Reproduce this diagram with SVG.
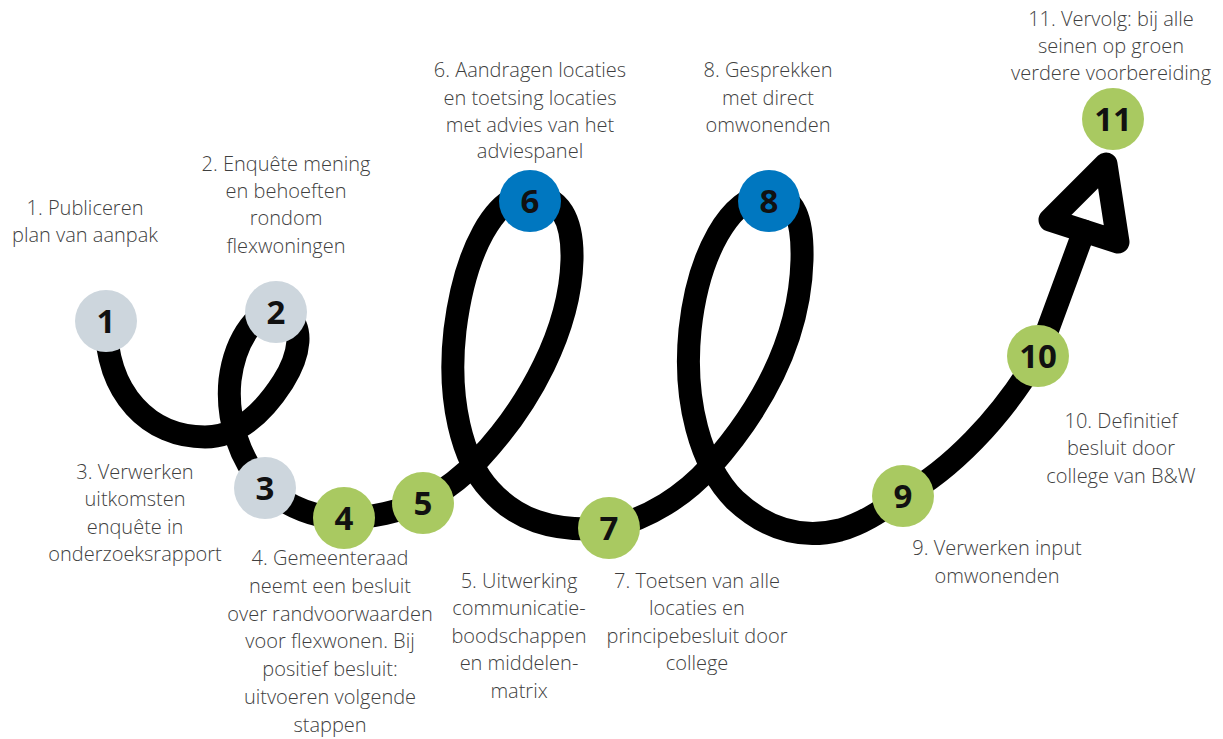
<svg xmlns="http://www.w3.org/2000/svg" width="1223" height="739" viewBox="0 0 1223 739">
<style>
.lbl{font-family:"Open Sans","Liberation Sans",sans-serif;font-size:20px;fill:#3f3f3f;text-anchor:middle;font-weight:300}
.num{font-family:"Open Sans","Liberation Sans",sans-serif;font-size:33px;font-weight:700;fill:#111;text-anchor:middle}
.gray{fill:#cdd6dd}.green{fill:#a9c961}.blue{fill:#0077c0}
.track{fill:none;stroke:#000;stroke-width:23;stroke-linecap:round;stroke-linejoin:round}
</style>
<rect width="1223" height="739" fill="#fff"/>
<g id="connectors">
<path class="track" d="M106,321 C106,395 150,437 205,437 C240,437 265,410 283,382 C300,355 305,325 285,314 C260,300 235,340 230,380 C226,420 240,460 265,488 C290,508 315,518 344,518 C375,518 400,510 423,503 C445,490 462,478 478,460 C530,405 570,330 572,260 C573,220 560,195 530,195 C495,195 465,250 455,330 C447,400 462,460 490,490 C515,518 550,533 609,528 C650,518 685,495 710,467 C765,405 800,335 802,260 C803,220 795,195 769,195 C730,195 698,255 690,330 C683,400 700,465 735,500 C765,528 800,540 840,530 C865,523 885,508 903,496 C950,470 1000,420 1038,356 L1084,231"/>
<path class="track" d="M1106,164 L1050,220 L1118,242 Z"/>
</g>
<g id="n1"><circle class="gray" cx="106" cy="321" r="31"/><text class="num" x="106" y="333">1</text>
<text class="lbl" x="85" y="215">1. Publiceren</text><text class="lbl" x="85" y="242">plan van aanpak</text></g>
<g id="n2"><circle class="gray" cx="276" cy="312" r="31"/><text class="num" x="276" y="324">2</text>
<text class="lbl" x="286" y="171">2. Enquête mening</text><text class="lbl" x="286" y="198">en behoeften</text><text class="lbl" x="286" y="225">rondom</text><text class="lbl" x="286" y="253">flexwoningen</text></g>
<g id="n3"><circle class="gray" cx="265" cy="488" r="31"/><text class="num" x="265" y="500">3</text>
<text class="lbl" x="135" y="479">3. Verwerken</text><text class="lbl" x="135" y="506">uitkomsten</text><text class="lbl" x="135" y="534">enquête in</text><text class="lbl" x="135" y="561">onderzoeksrapport</text></g>
<g id="n4"><circle class="green" cx="344" cy="518" r="31"/><text class="num" x="344" y="530">4</text>
<text class="lbl" x="330" y="565">4. Gemeenteraad</text><text class="lbl" x="330" y="593">neemt een besluit</text><text class="lbl" x="330" y="621">over randvoorwaarden</text><text class="lbl" x="330" y="648">voor flexwonen. Bij</text><text class="lbl" x="330" y="676">positief besluit:</text><text class="lbl" x="330" y="704">uitvoeren volgende</text><text class="lbl" x="330" y="732">stappen</text></g>
<g id="n5"><circle class="green" cx="423" cy="503" r="31"/><text class="num" x="423" y="515">5</text>
<text class="lbl" x="519" y="588">5. Uitwerking</text><text class="lbl" x="519" y="615">communicatie-</text><text class="lbl" x="519" y="643">boodschappen</text><text class="lbl" x="519" y="670">en middelen-</text><text class="lbl" x="519" y="698">matrix</text></g>
<g id="n6"><circle class="blue" cx="530" cy="201" r="31"/><text class="num" x="530" y="213">6</text>
<text class="lbl" x="530" y="77">6. Aandragen locaties</text><text class="lbl" x="530" y="105">en toetsing locaties</text><text class="lbl" x="530" y="132">met advies van het</text><text class="lbl" x="530" y="158">adviespanel</text></g>
<g id="n7"><circle class="green" cx="609" cy="528" r="31"/><text class="num" x="609" y="540">7</text>
<text class="lbl" x="697" y="588">7. Toetsen van alle</text><text class="lbl" x="697" y="615">locaties en</text><text class="lbl" x="697" y="643">principebesluit door</text><text class="lbl" x="697" y="670">college</text></g>
<g id="n8"><circle class="blue" cx="769" cy="201" r="31"/><text class="num" x="769" y="213">8</text>
<text class="lbl" x="768" y="77">8. Gesprekken</text><text class="lbl" x="768" y="105">met direct</text><text class="lbl" x="768" y="132">omwonenden</text></g>
<g id="n9"><circle class="green" cx="903" cy="496" r="31"/><text class="num" x="903" y="508">9</text>
<text class="lbl" x="997" y="555">9. Verwerken input</text><text class="lbl" x="997" y="583">omwonenden</text></g>
<g id="n10"><circle class="green" cx="1038" cy="356" r="31"/><text class="num" x="1038" y="368">10</text>
<text class="lbl" x="1121" y="428">10. Definitief</text><text class="lbl" x="1121" y="455">besluit door</text><text class="lbl" x="1121" y="483">college van B&amp;W</text></g>
<g id="n11"><circle class="green" cx="1113" cy="119" r="31"/><text class="num" x="1113" y="131">11</text>
<text class="lbl" x="1111" y="26">11. Vervolg: bij alle</text><text class="lbl" x="1111" y="53">seinen op groen</text><text class="lbl" x="1111" y="80">verdere voorbereiding</text></g>
</svg>
